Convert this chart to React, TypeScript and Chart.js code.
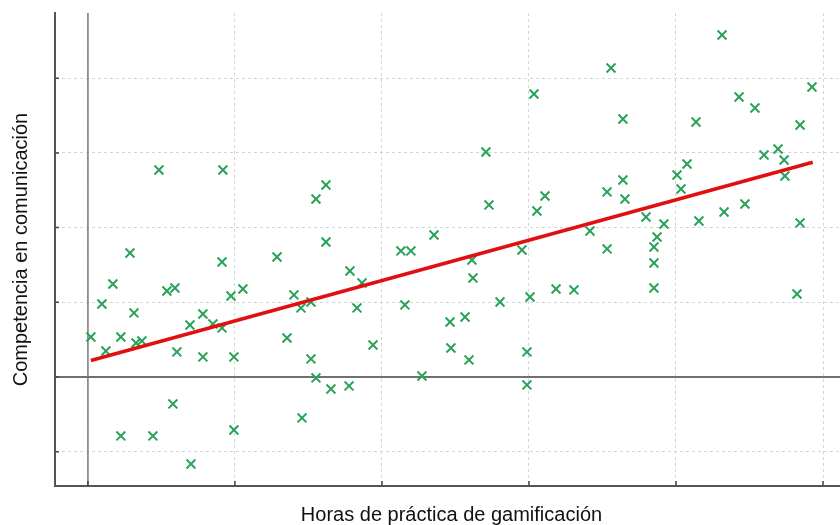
import React, { useEffect, useRef } from "react";
import { Chart, registerables } from "chart.js";

Chart.register(...registerables);

const xTitle = "Horas de práctica de gamificación";
const yTitle = "Competencia en comunicación";

const hours = [
  0.02, 0.095, 0.122, 0.17, 0.224, 0.224, 0.286, 0.313, 0.327, 0.367,
  0.442, 0.483, 0.537, 0.592, 0.578, 0.605, 0.694, 0.701, 0.782, 0.782,
  0.85, 0.912, 0.912, 0.918, 0.973, 0.993, 0.993, 1.054, 1.286, 1.354,
  1.401, 1.449, 1.517, 1.456, 1.517, 1.551, 1.551, 1.619, 1.619, 1.653,
  1.782, 1.776, 1.83, 1.864, 1.939, 2.129, 2.197, 2.156, 2.272, 2.354,
  2.463, 2.469, 2.565, 2.592, 2.612, 2.619, 2.707, 2.728, 2.803, 2.952,
  2.986, 2.986, 3.007, 3.034, 3.054, 3.109, 3.184, 3.306, 3.415, 3.531,
  3.531, 3.558, 3.639, 3.639, 3.653, 3.796, 3.85, 3.85, 3.85, 3.871,
  3.918, 4.007, 4.034, 4.075, 4.136, 4.156, 4.313, 4.327, 4.429, 4.469,
  4.537, 4.599, 4.694, 4.735, 4.741, 4.823, 4.844, 4.844, 4.925,
];

const competence = [
  0.535, 0.977, 0.348, 1.245, 0.535, -0.79, 1.66, 0.857, 0.455, 0.482,
  -0.79, 2.771, 1.151, 1.191, -0.361, 0.335, 0.696, -1.165, 0.843, 0.268,
  0.71, 0.656, 1.539, 2.771, 1.084, 0.268, -0.71, 1.178, 1.606, 0.522,
  1.098, 0.924, 1.004, -0.549, 0.241, -0.013, 2.383, 2.57, 1.807, -0.161,
  1.419, -0.12, 0.924, 1.258, 0.428, 1.687, 1.687, 0.964, 0.013, 1.901,
  0.736, 0.388, 0.803, 0.228, 1.566, 1.325, 3.012, 2.303, 1.004, 1.7,
  0.335, -0.107, 1.071, 3.788, 2.222, 2.423, 1.178, 1.165, 1.954, 2.477,
  1.714, 4.137, 3.454, 2.637, 2.383, 2.142, 1.74, 1.526, 1.191, 1.874,
  2.048, 2.704, 2.517, 2.851, 3.414, 2.088, 4.578, 2.209, 3.748, 2.316,
  3.601, 2.972, 3.052, 2.905, 2.691, 1.111, 3.373, 2.062, 3.882,
];

const fitHours = [0.02, 4.93];
const fitCompetence = [0.22, 2.875];

const xRange = [-0.224, 5.17];
const yRange = [-1.46, 4.873];

const axisExtras = {
  id: "axisExtras",
  beforeDatasetsDraw(chart: any) {
    const { ctx, chartArea, scales } = chart;
    const x0 = scales.x.getPixelForValue(0);
    const y0 = scales.y.getPixelForValue(0);
    ctx.save();
    ctx.strokeStyle = "#7a7a7a";
    ctx.lineWidth = 1.5;
    ctx.beginPath();
    ctx.moveTo(x0, chartArea.top);
    ctx.lineTo(x0, chartArea.bottom);
    ctx.stroke();
    ctx.strokeStyle = "#707070";
    ctx.lineWidth = 2;
    ctx.beginPath();
    ctx.moveTo(chartArea.left, y0);
    ctx.lineTo(chartArea.right, y0);
    ctx.stroke();
    ctx.restore();
  },
  afterDraw(chart: any) {
    const { ctx, chartArea, scales } = chart;
    ctx.save();
    ctx.strokeStyle = "#444";
    ctx.lineWidth = 1.5;
    ctx.beginPath();
    for (const t of scales.x.ticks) {
      const px = scales.x.getPixelForValue(t.value);
      ctx.moveTo(px, chartArea.bottom);
      ctx.lineTo(px, chartArea.bottom - 5);
    }
    for (const t of scales.y.ticks) {
      const py = scales.y.getPixelForValue(t.value);
      ctx.moveTo(chartArea.left, py);
      ctx.lineTo(chartArea.left + 4, py);
    }
    ctx.stroke();
    ctx.restore();
  },
};

export default function App() {
  const ref = useRef<HTMLCanvasElement | null>(null);
  useEffect(() => {
    if (!ref.current) return;
    const points = hours.map((h, i) => ({ x: h, y: competence[i] }));
    const fit = fitHours.map((h, i) => ({ x: h, y: fitCompetence[i] }));
    const titleFont = { family: "'Liberation Sans', Arial, sans-serif", size: 20, lineHeight: 1 };
    const chart = new Chart(ref.current, {
      type: "scatter",
      data: {
        datasets: [
          {
            type: "line",
            data: fit,
            borderColor: "#e01010",
            borderWidth: 3.5,
            pointRadius: 0,
            fill: false,
          } as any,
          {
            data: points,
            pointStyle: "crossRot",
            pointRadius: 6.3,
            pointBorderWidth: 2,
            borderColor: "#2aa35a",
            backgroundColor: "#2aa35a",
          } as any,
        ],
      },
      options: {
        responsive: false,
        animation: false,
        devicePixelRatio: 1,
        layout: { autoPadding: false, padding: { top: 13, right: 0, bottom: 0, left: 0 } },
        plugins: { legend: { display: false }, tooltip: { enabled: false } },
        scales: {
          x: {
            type: "linear",
            min: xRange[0],
            max: xRange[1],
            afterFit(scale: any) {
              scale.height = 39;
            },
            ticks: { display: false, stepSize: 1, includeBounds: false },
            grid: { color: "#d4d4d4", lineWidth: 1, drawTicks: false },
            border: { display: true, color: "#555", width: 2, dash: [3, 3] },
            title: {
              display: true,
              text: xTitle,
              color: "#111",
              font: titleFont,
              padding: { top: 0, bottom: 0 },
            },
          },
          y: {
            type: "linear",
            min: yRange[0],
            max: yRange[1],
            afterFit(scale: any) {
              scale.width = 55;
            },
            ticks: { display: false, stepSize: 1, includeBounds: false },
            grid: { color: "#d4d4d4", lineWidth: 1, drawTicks: false },
            border: { display: true, color: "#555", width: 2, dash: [3, 3] },
            title: {
              display: true,
              text: yTitle,
              color: "#111",
              font: titleFont,
              padding: { top: 11, bottom: 0 },
            },
          },
        },
      },
      plugins: [axisExtras],
    } as any);
    return () => chart.destroy();
  }, []);
  return (
    <div
      style={{
        position: "fixed",
        left: 0,
        top: 0,
        width: 840,
        height: 525,
        overflow: "hidden",
        background: "#fff",
      }}
    >
      <div style={{ width: 848, height: 525 }}>
        <canvas ref={ref} width={848} height={525} style={{ display: "block" }} />
      </div>
    </div>
  );
}
